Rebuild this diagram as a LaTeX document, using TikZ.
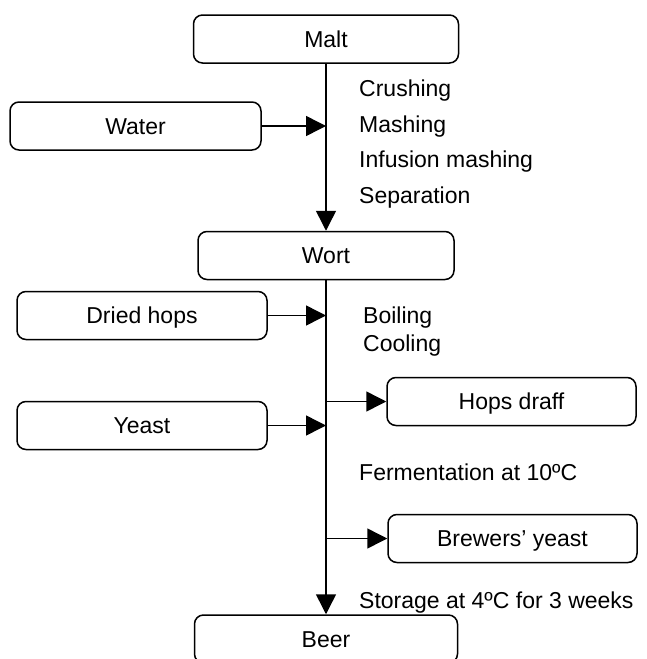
\documentclass[tikz,border=0pt]{standalone}
\usepackage{fontspec}
\setmainfont{Liberation Sans}
\usetikzlibrary{arrows.meta}
\begin{document}
\begin{tikzpicture}[x=1pt,y=-1pt,
  every node/.style={font=\fontsize{23pt}{27pt}\selectfont},
  box/.style={draw, rounded corners=9pt, line width=1.5pt, minimum height=48pt,
    text height=16.5pt, text depth=0pt, inner sep=0pt},
  conn/.style={line width=1.5pt, -{Triangle[length=20pt,width=20pt]}},
  lbl/.style={anchor=base west, inner sep=0pt}]
\clip (0,0) rectangle (646,659);
% main column
\node[box, minimum width=265pt] (malt) at (326,39) {Malt};
\node[box, minimum width=256pt] (wort) at (326,255.5) {Wort};
\node[box, minimum width=263pt] (beer) at (326,639) {Beer};
% inputs
\node[box, minimum width=251pt] (water) at (135.5,126) {Water};
\node[box, minimum width=250pt] (hops) at (142,315.5) {Dried hops};
\node[box, minimum width=250pt] (yeast) at (142,425.5) {Yeast};
% outputs
\node[box, minimum width=249pt] (draff) at (511.5,401.5) {Hops draff};
\node[box, minimum width=249pt] (brew) at (512.5,538.5) {Brewers’ yeast};
% process labels
\node[lbl] (l1) at (359,96.5) {Crushing};
\node[lbl] (l2) at (359,132) {Mashing};
\node[lbl] (l3) at (359,167.5) {Infusion mashing};
\node[lbl] (l4) at (359,203.5) {Separation};
\node[lbl] (l5) at (363,323) {Boiling};
\node[lbl] (l6) at (363,351.5) {Cooling};
\node[lbl] (l7) at (359,480.5) {Fermentation at 10ºC};
\node[lbl] (l8) at (359,608) {Storage at 4ºC for 3 weeks};
% connectors
\draw[conn] (malt) -- (wort);
\draw[conn] (wort) -- (beer);
\draw[conn] (water.east) -- (water.east -| malt.south);
\draw[conn] (hops.east) -- (hops.east -| wort.south);
\draw[conn] (yeast.east) -- (yeast.east -| wort.south);
\draw[conn] (draff.west -| wort.south) -- (draff.west);
\draw[conn] (brew.west -| wort.south) -- (brew.west);
\end{tikzpicture}
\end{document}
